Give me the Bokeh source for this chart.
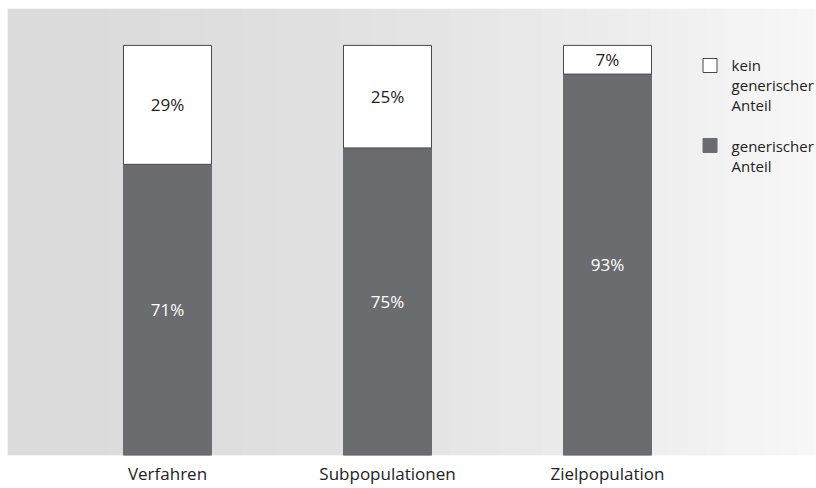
import numpy as np
from bokeh.plotting import figure
from bokeh.models import Range1d, FixedTicker, ColumnDataSource
from bokeh.core.properties import value
from bokeh.embed import file_html
from bokeh.resources import INLINE

categories = ["Verfahren", "Subpopulationen", "Zielpopulation"]
generisch = [71, 75, 93]
kein_generisch = [29, 25, 7]
legend_labels = ["kein\ngenerischer\nAnteil", "generischer\nAnteil"]

DARK = "#6b6c70"
FONT = "Open Sans"

xs = list(range(len(categories)))
src = ColumnDataSource(dict(
    x=xs,
    gen=generisch,
    kein=kein_generisch,
    top_all=[g + k for g, k in zip(generisch, kein_generisch)],
    gen_mid=[g / 2 for g in generisch],
    kein_mid=[g + k / 2 for g, k in zip(generisch, kein_generisch)],
    gen_lbl=[f"{g}%" for g in generisch],
    kein_lbl=[f"{k}%" for k in kein_generisch],
))

x0, x1 = -0.7273, 2.95
y1 = 109.0
p = figure(width=816, height=488, output_backend="svg", toolbar_location=None,
           x_range=Range1d(x0, x1), y_range=Range1d(0, y1),
           min_border_left=7, min_border_right=0, min_border_top=8, min_border_bottom=33)
p.outline_line_color = None
p.grid.visible = False
p.yaxis.visible = False
p.xaxis.ticker = FixedTicker(ticks=xs)
p.xaxis.major_label_overrides = {i: c for i, c in enumerate(categories)}
p.xaxis.axis_line_color = None
p.xaxis.major_tick_line_color = None
p.xaxis.minor_tick_line_color = None
p.xaxis.major_label_text_font = FONT
p.xaxis.major_label_text_font_size = "17px"
p.xaxis.major_label_text_color = "#222222"
p.xaxis.major_label_standoff = 0

# background gradient
n = 256
t = np.linspace(0, 1, n)
g = (219 + 29 * t ** 1.6).astype(np.uint8)
img = np.zeros((1, n), dtype=np.uint32)
view = img.view(dtype=np.uint8).reshape((1, n, 4))
view[0, :, 0] = g
view[0, :, 1] = g
view[0, :, 2] = g
view[0, :, 3] = 255
p.image_rgba(image=[img], x=x0, y=0, dw=x1 - x0, dh=y1)

p.vbar(x="x", bottom=0, top="gen", width=0.4, source=src,
       fill_color=DARK, line_color=DARK, line_width=1)
p.vbar(x="x", bottom="gen", top="top_all", width=0.4, source=src,
       fill_color="white", line_color="#4a4a4a", line_width=1)

p.text(x="x", y="kein_mid", text="kein_lbl", source=src, text_align="center",
       text_baseline="middle", text_font=value(FONT), text_font_size="17px",
       text_color="#222222")
p.text(x="x", y="gen_mid", text="gen_lbl", source=src, text_align="center",
       text_baseline="middle", text_font=value(FONT), text_font_size="17px",
       text_color="white")

# legend drawn manually
leg_x_box = 2.466
leg_x_txt = 2.564
leg_y_box = [95.1, 75.6]
leg_y_txt = [97.6, 78.0]
p.rect(x=[leg_x_box] * 2, y=leg_y_box, width=14, height=14,
       width_units="screen", height_units="screen",
       fill_color=["white", DARK], line_color=["#4a4a4a", DARK], line_width=1)
p.text(x=[leg_x_txt] * 2, y=leg_y_txt, text=legend_labels, text_align="left",
       text_baseline="top", text_font=value(FONT), text_font_size="15px",
       text_line_height=1.0, text_color="#222222")

open("out.html", "w").write(file_html(p, INLINE))
